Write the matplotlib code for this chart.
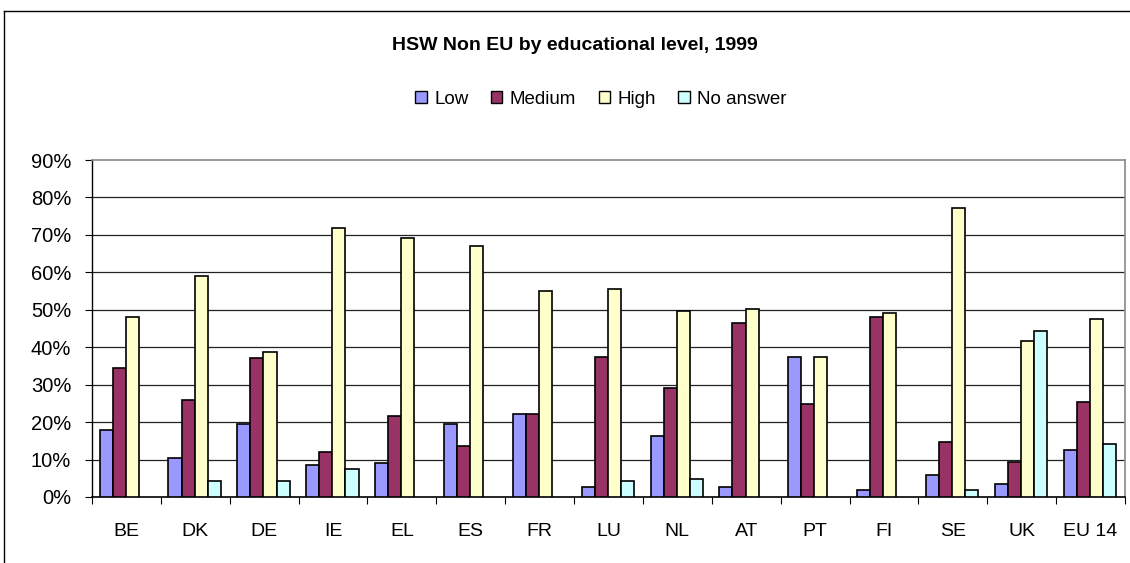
import numpy as np
import matplotlib
matplotlib.use("Agg")
import matplotlib.pyplot as plt
from matplotlib.lines import Line2D
from matplotlib.patches import Patch
from matplotlib.ticker import FuncFormatter, MultipleLocator

categories = ["BE", "DK", "DE", "IE", "EL", "ES", "FR", "LU", "NL", "AT", "PT", "FI", "SE", "UK", "EU 14"]
low =       [17.9, 10.5, 19.5, 8.5, 9.0, 19.5, 22.2, 2.6, 16.4, 2.6, 37.5, 2.0, 5.8, 3.6, 12.6]
medium =    [34.4, 25.9, 37.0, 12.1, 21.6, 13.7, 22.2, 37.5, 29.0, 46.5, 24.8, 48.1, 14.8, 9.4, 25.4]
high =      [48.1, 59.1, 38.6, 71.9, 69.2, 67.0, 54.9, 55.5, 49.7, 50.2, 37.5, 49.1, 77.1, 41.7, 47.5]
no_answer = [None, 4.3, 4.3, 7.4, None, None, None, 4.2, 4.7, None, None, None, 2.0, 44.4, 14.2]
series_names = ["Low", "Medium", "High", "No answer"]
colors = ["#9999FF", "#993366", "#FFFFCC", "#CCFFFF"]
title = "HSW Non EU by educational level, 1999"

plt.rcParams['font.family'] = ['Liberation Sans', 'DejaVu Sans']

W, H = 1130, 563
fig = plt.figure(figsize=(W / 100, H / 100), dpi=100)
ax = fig.add_axes([92 / W, 1 - 497 / H, (1125 - 92) / W, (497 - 160) / H])

x = np.arange(len(categories))
bw = 0.19
data = [low, medium, high, no_answer]
for i, (vals, c) in enumerate(zip(data, colors)):
    v = np.array([np.nan if a is None else a for a in vals], dtype=float)
    mask = ~np.isnan(v)
    ax.bar(x[mask] + (i - 1.5) * bw - 0.01, v[mask], width=bw, color=c,
           edgecolor="black", linewidth=1.2, zorder=3)

ax.set_xlim(-0.5, len(categories) - 0.5)
ax.set_ylim(0, 90)
ax.yaxis.set_major_locator(MultipleLocator(10))
ax.yaxis.set_major_formatter(FuncFormatter(lambda v, p: f"{int(round(v))}%"))
ax.set_xticks(x)
ax.set_xticklabels(categories)
ax.set_xticks(np.arange(-0.5, len(categories), 1.0), minor=True)
ax.tick_params(axis="x", which="major", length=0, pad=19, labelsize=14)
ax.tick_params(axis="x", which="minor", length=5, width=0.8, direction="out", color="black")
ax.tick_params(axis="y", length=5, width=0.8, direction="out", labelsize=14.5, pad=10)

for gy in range(10, 90, 10):
    ax.axhline(gy, color="#222222", linewidth=0.9, zorder=1)

for s in ["top", "right"]:
    ax.spines[s].set_color("#888888")
    ax.spines[s].set_linewidth(1.2)
ax.spines["left"].set_color("black")
ax.spines["bottom"].set_color("black")
ax.spines["left"].set_linewidth(1.0)
ax.spines["bottom"].set_linewidth(1.2)

fig.text(575 / W, 1 - 45 / H, title, ha="center", va="center",
         fontsize=14, fontweight="bold")

handles = [Patch(facecolor=c, edgecolor="black", linewidth=1.0) for c in colors]
fig.legend(handles, series_names, loc="center", bbox_to_anchor=(601 / W, 1 - 99 / H),
           ncol=4, frameon=False, fontsize=13.5, handlelength=0.6, handleheight=0.6,
           handletextpad=0.4, columnspacing=1.2, borderaxespad=0)

# outer chart frame (extends beyond the image on the right and bottom)
fig.add_artist(Line2D([4 / W, 1.2], [1 - 11 / H, 1 - 11 / H], color="black", linewidth=1.0,
                      transform=fig.transFigure, clip_on=False))
fig.add_artist(Line2D([4 / W, 4 / W], [1 - 11 / H, -0.2], color="black", linewidth=1.0,
                      transform=fig.transFigure, clip_on=False))

fig.savefig("out.png", dpi=100)
